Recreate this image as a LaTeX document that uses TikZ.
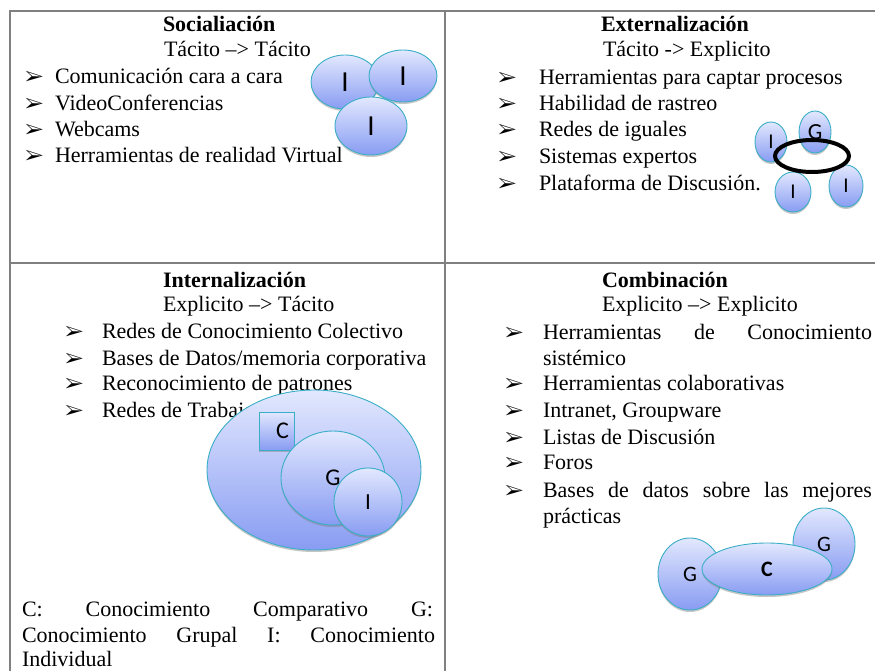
\documentclass[tikz,border=0pt]{standalone}
\usepackage{fontspec}
\setmainfont{Liberation Serif}
\newfontfamily\lblfont{Carlito}
\usepackage{pifont}
\usetikzlibrary{shapes.geometric,shadows}
\definecolor{blobtop}{HTML}{E2E8FE}
\definecolor{blobbot}{HTML}{889CF2}
\definecolor{blobline}{HTML}{3AAEC6}
\definecolor{gridgray}{HTML}{808080}
\newcommand{\vineta}[2]{\makebox[#1pt][l]{\fontsize{20}{20}\selectfont\ding{226}}#2}

\begin{document}
\begin{tikzpicture}[x=1pt, y=-1pt,
    every node/.style={inner sep=0pt, outer sep=0pt},
    txt/.style={anchor=base west, font=\fontsize{22}{26}\selectfont},
    ttl/.style={anchor=base west, font=\fontsize{22}{26}\selectfont\bfseries},
    blob/.style={ellipse, draw=blobline, line width=0.9pt, top color=blobtop, bottom color=blobbot,
      drop shadow={shadow xshift=0pt, shadow yshift=-2pt, fill=black!50, opacity=0.45}},
    gridline/.style={draw=gridgray, line width=2pt}]
  \tikzset{lbl/.style={font=\lblfont\fontsize{#1}{#1}\selectfont},
    box/.style={rectangle, draw=blobline, line width=0.9pt, top color=blobtop, bottom color=blobbot,
      drop shadow={shadow xshift=0pt, shadow yshift=-2pt, fill=black!50, opacity=0.45}}}
  \useasboundingbox (0,0) rectangle (875,671);
  \draw[gridline] (10,671) -- (10,11) -- (875,11);
  \draw[gridline] (445,11) -- (445,671);
  \draw[gridline] (10,263) -- (875,263);

  \node[ttl] (soc-title) at (163,32) {Socialiación};
  \node[txt] (soc-sub) at (164,57) {Tácito –> Tácito};
  \node[txt] (soc-1) at (25,84) {\vineta{30}{Comunicación cara a cara}};
  \node[txt] (soc-2) at (25,111) {\vineta{30}{VideoConferencias}};
  \node[txt] (soc-3) at (25,137) {\vineta{30}{Webcams}};
  \node[txt] (soc-4) at (25,163) {\vineta{30}{Herramientas de realidad Virtual}};
  \node[blob, minimum width=68pt, minimum height=54pt, lbl=29] (soc-a) at (345,82) {I};
  \node[blob, minimum width=68pt, minimum height=52pt, lbl=29] (soc-b) at (403,76) {I};
  \node[blob, minimum width=72pt, minimum height=58pt, lbl=29] (soc-c) at (371,126) {I};

  \node[ttl] (ext-title) at (601,32) {Externalización};
  \node[txt] (ext-sub) at (603,57) {Tácito -> Explicito};
  \node[txt] (ext-1) at (498,85) {\vineta{41}{Herramientas para captar procesos}};
  \node[txt] (ext-2) at (498,111) {\vineta{41}{Habilidad de rastreo}};
  \node[txt] (ext-3) at (498,137) {\vineta{41}{Redes de iguales}};
  \node[txt] (ext-4) at (498,164) {\vineta{41}{Sistemas expertos}};
  \node[txt] (ext-5) at (498,191) {\vineta{41}{Plataforma de Discusión.}};
  \node[blob, minimum width=32pt, minimum height=40pt, lbl=21] (ext-a) at (771,142) {I};
  \node[blob, minimum width=32pt, minimum height=42pt, lbl=23] (ext-b) at (815,132) {G};
  \node[blob, minimum width=36pt, minimum height=40pt, lbl=21] (ext-c) at (793,192) {I};
  \node[blob, minimum width=34pt, minimum height=42pt, lbl=21] (ext-d) at (846,186) {I};
  \node[ellipse, draw=black, line width=4pt, minimum width=74pt, minimum height=32pt] (ext-ring) at (812,156) {};

  \node[ttl] (int-title) at (163,287) {Internalización};
  \node[txt] (int-sub) at (163,311) {Explicito –> Tácito};
  \node[txt] (int-1) at (65,338) {\vineta{37}{Redes de Conocimiento Colectivo}};
  \node[txt] (int-2) at (65,365) {\vineta{37}{Bases de Datos/memoria corporativa}};
  \node[txt] (int-3) at (65,390) {\vineta{37}{Reconocimiento de patrones}};
  \node[txt] (int-4) at (65,417) {\vineta{37}{Redes de Trabajo}};
  \node[blob, minimum width=214pt, minimum height=160pt] (int-big) at (314,470) {};
  \node[box, minimum width=35pt, minimum height=38pt, lbl=24] (int-c) at (276.5,431) {\hspace*{12pt}C};
  \node[blob, minimum width=104pt, minimum height=94pt, lbl=24] (int-g) at (333,478) {G};
  \node[blob, minimum width=68pt, minimum height=68pt, lbl=23] (int-i) at (368,502) {I};
  \node[txt] (leg-1) at (22,616) {\makebox[411pt][s]{C: Conocimiento Comparativo G:}};
  \node[txt] (leg-2) at (22,642) {\makebox[413pt][s]{Conocimiento Grupal I: Conocimiento}};
  \node[txt] (leg-3) at (22,666) {Individual};

  \node[ttl] (com-title) at (602,287) {Combinación};
  \node[txt] (com-sub) at (602,311) {Explicito –> Explicito};
  \node[txt] (com-1) at (505,339) {\vineta{38}{\makebox[329pt][s]{Herramientas de Conocimiento}}};
  \node[txt] (com-1b) at (543,365) {sistémico};
  \node[txt] (com-2) at (505,390) {\vineta{38}{Herramientas colaborativas}};
  \node[txt] (com-3) at (505,417) {\vineta{38}{Intranet, Groupware}};
  \node[txt] (com-4) at (505,444) {\vineta{38}{Listas de Discusión}};
  \node[txt] (com-5) at (505,469) {\vineta{38}{Foros}};
  \node[txt] (com-6) at (505,497) {\vineta{38}{\makebox[329pt][s]{Bases de datos sobre las mejores}}};
  \node[txt] (com-6b) at (543,523) {prácticas};
  \node[blob, minimum width=64pt, minimum height=72pt, lbl=22] (com-g1) at (690,574) {G};
  \node[blob, minimum width=62pt, minimum height=72pt, lbl=22] (com-g2) at (824,544) {G};
  \node[blob, minimum width=130pt, minimum height=52pt, lbl=22] (com-c) at (767,569) {\bfseries C};
\end{tikzpicture}
\end{document}
